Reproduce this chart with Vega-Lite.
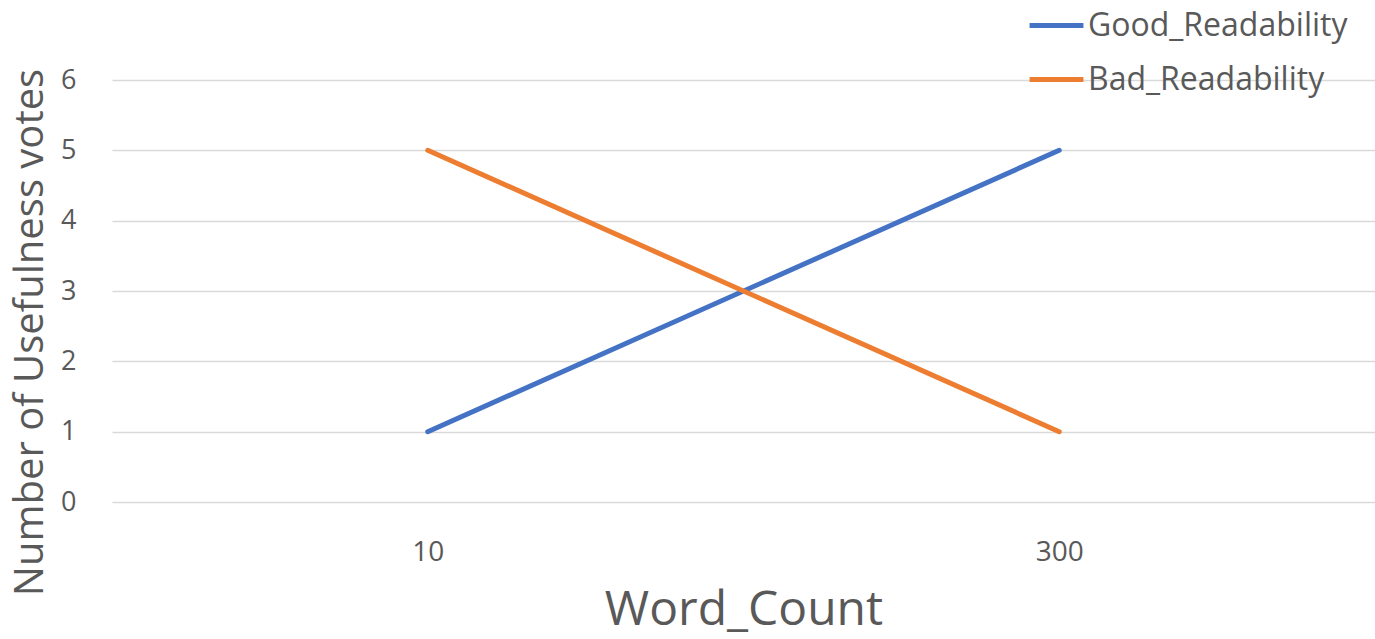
{
  "$schema": "https://vega.github.io/schema/vega-lite/v6.json",
  "autosize": "none",
  "width": 1263,
  "height": 422,
  "padding": {"left": 112, "top": 80, "right": 0, "bottom": 137},
  "background": "white",
  "config": {
    "view": {"stroke": null},
    "font": "Open Sans",
    "axis": {
      "labelColor": "#595959",
      "titleColor": "#595959",
      "titleFontWeight": "normal",
      "gridColor": "#D9D9D9",
      "gridWidth": 1.5,
      "domain": false,
      "ticks": false
    }
  },
  "data": {
    "values": [
      {"Word_Count": "10", "series": "Good_Readability", "votes": 1},
      {"Word_Count": "300", "series": "Good_Readability", "votes": 5},
      {"Word_Count": "10", "series": "Bad_Readability", "votes": 5},
      {"Word_Count": "300", "series": "Bad_Readability", "votes": 1}
    ]
  },
  "mark": {"type": "line", "strokeWidth": 5, "strokeCap": "round"},
  "encoding": {
    "x": {
      "field": "Word_Count",
      "type": "ordinal",
      "sort": ["10", "300"],
      "scale": {"type": "point", "padding": 0.5},
      "axis": {
        "title": "Word_Count",
        "grid": false,
        "labelAngle": 0,
        "labelFontSize": 28,
        "labelPadding": 36,
        "titleFontSize": 48,
        "titlePadding": 20
      }
    },
    "y": {
      "field": "votes",
      "type": "quantitative",
      "scale": {"domain": [0, 6], "nice": false},
      "axis": {
        "title": "Number of Usefulness votes",
        "values": [0, 1, 2, 3, 4, 5, 6],
        "labelFontSize": 27,
        "labelPadding": 36,
        "titleFontSize": 40,
        "titleAlign": "center",
        "titleBaseline": "middle",
        "titleAngle": -90,
        "titleX": -82,
        "titleY": 252
      }
    },
    "color": {
      "field": "series",
      "type": "nominal",
      "sort": ["Good_Readability", "Bad_Readability"],
      "scale": {"domain": ["Good_Readability", "Bad_Readability"], "range": ["#4472C4", "#ED7D31"]},
      "legend": {
        "title": null,
        "orient": "none",
        "legendX": 915,
        "legendY": -84,
        "symbolType": "stroke",
        "symbolSize": 2900,
        "symbolStrokeWidth": 5,
        "labelFontSize": 32,
        "labelLimit": 0,
        "labelColor": "#595959",
        "labelOffset": 2,
        "rowPadding": 8
      }
    }
  }
}
